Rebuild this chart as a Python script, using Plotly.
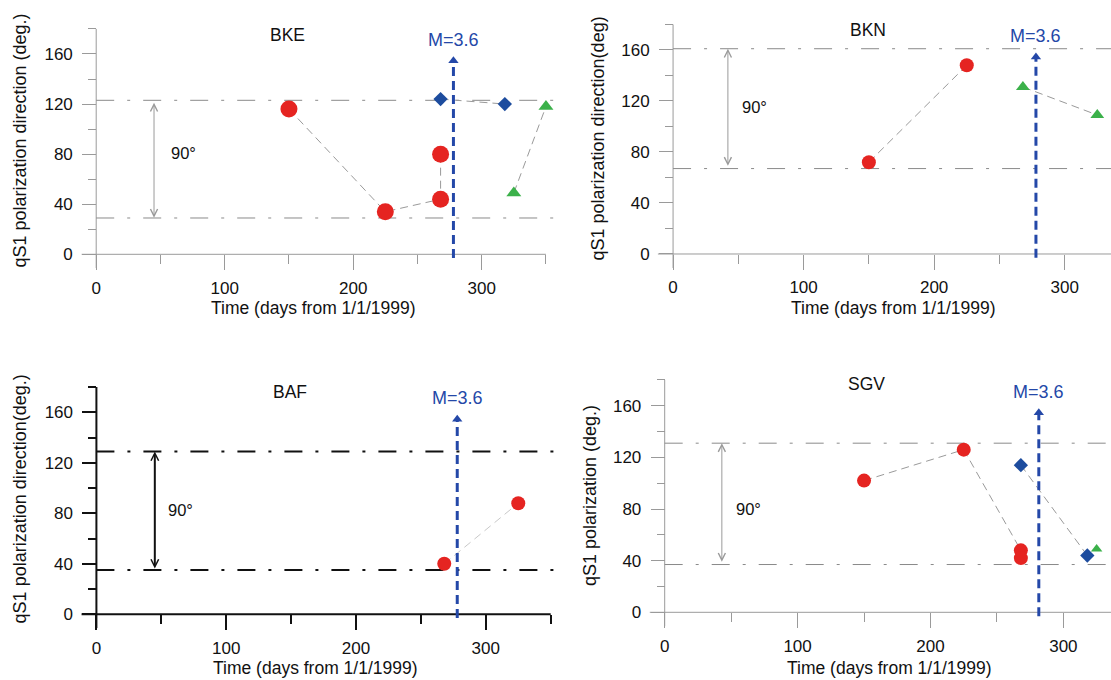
import plotly.graph_objects as go

W, H = 1111, 680

# ---------------- data ----------------
stations = ["BKE", "BKN", "BAF", "SGV"]
y_titles = ["qS1 polarization direction (deg.)",
            "qS1 polarization direction(deg)",
            "qS1 polarization direction(deg.)",
            "qS1 polarization (deg.)"]
x_title = "Time (days from 1/1/1999)"
x_ticks = [0, 100, 200, 300]
y_ticks = [0, 40, 80, 120, 160]

# BKE
bke_circle_x = [150, 225, 268, 268]
bke_circle_y = [116, 34, 44, 80]
bke_diamond_x = [268, 318]
bke_diamond_y = [124, 120]
bke_triangle_x = [325, 350]
bke_triangle_y = [49, 118]
# BKN
bkn_circle_x = [150, 225]
bkn_circle_y = [72, 148]
bkn_diamond_x = []
bkn_diamond_y = []
bkn_triangle_x = [268, 325]
bkn_triangle_y = [131, 109]
# BAF
baf_circle_x = [268, 325]
baf_circle_y = [40, 88]
baf_diamond_x = []
baf_diamond_y = []
baf_triangle_x = []
baf_triangle_y = []
# SGV
sgv_circle_x = [150, 225, 268, 268]
sgv_circle_y = [102, 126, 48, 42]
sgv_diamond_x = [268, 318]
sgv_diamond_y = [114, 44]
sgv_triangle_x = [325]
sgv_triangle_y = [49]

# fast-direction bounds (90 deg apart)
ref_low = [29, 67, 35, 37]
ref_high = [123, 161, 129, 131]
arrow_low = [28, 68, 35, 38]
arrow_high = [121, 161, 129, 131]
arrow_day = [45, 42, 45, 43]
event_day = [278, 278, 278, 281.5]
event_label = "M=3.6"

# ---------------- styling / geometry ----------------
RED = "#e52421"
BLUE_D = "#1d4c9e"
GREEN = "#3bb14a"
EVENT = "#2448a8"
FONT = "Liberation Sans, Arial, sans-serif"

# pixel geometry of each panel: x=0 pixel, px/day, y=0 pixel, px/deg, ranges
geo = [
    dict(x0=96.2, kx=1.285, xr=[-11.5, 360], y0=254.3, ky=1.252, yr=[-11, 181]),
    dict(x0=673.1, kx=1.307, xr=[-11.8, 335.5], y0=254.0, ky=1.275, yr=[-11, 181]),
    dict(x0=96.4, kx=1.298, xr=[-11.6, 357], y0=614.3, ky=1.2625, yr=[-11, 181]),
    dict(x0=664.7, kx=1.329, xr=[-11.4, 335.8], y0=612.3, ky=1.291, yr=[-11, 181]),
]
dark = [False, False, True, False]
ytitle_px = [(19.6, 141), (597, 138.5), (20.4, 499), (590, 496)]
xtitle_py = [308, 308, 668, 668]
title_xy = [(149, 175), (149, 175.5), (149, 176), (152, 176.5)]
ninety_xy = [(57, 81), (51, 115), (54, 82.6), (52.4, 80)]

panels = [
    (bke_circle_x, bke_circle_y, bke_diamond_x, bke_diamond_y, bke_triangle_x, bke_triangle_y),
    (bkn_circle_x, bkn_circle_y, bkn_diamond_x, bkn_diamond_y, bkn_triangle_x, bkn_triangle_y),
    (baf_circle_x, baf_circle_y, baf_diamond_x, baf_diamond_y, baf_triangle_x, baf_triangle_y),
    (sgv_circle_x, sgv_circle_y, sgv_diamond_x, sgv_diamond_y, sgv_triangle_x, sgv_triangle_y),
]
circle_size = [17, 14, 14, 14]
diamond_size = [11, 11, 11, 11]
triangle_size = [13, 12, 12, 10]

fig = go.Figure()
annotations = []
layout = {}

for i, g in enumerate(geo):
    n = "" if i == 0 else str(i + 1)
    xa, ya = "x" + n, "y" + n
    axcol = "#111111" if dark[i] else "#9a9a9a"
    axw = 2 if dark[i] else 1
    refcol = "#111111" if dark[i] else "#8a8a8a"
    refw = 2 if dark[i] else 1
    conncol = "#c8c8c8" if dark[i] else "#9a9a9a"

    left = g["x0"] + g["xr"][0] * g["kx"]
    right = min(W, g["x0"] + g["xr"][1] * g["kx"])
    top = g["y0"] - g["yr"][1] * g["ky"]
    bottom = g["y0"] - g["yr"][0] * g["ky"]

    layout["xaxis" + n] = dict(
        domain=[left / W, right / W], range=g["xr"], anchor="free",
        position=(H - g["y0"]) / H, showline=False, zeroline=False, showgrid=False,
        tickmode="array", tickvals=x_ticks, ticktext=[str(v) for v in x_ticks],
        ticks="outside", ticklen=15, tickwidth=axw, tickcolor=axcol,
        minor=dict(tickmode="linear", tick0=0, dtick=50, ticks="outside", ticklen=9,
                   tickwidth=axw, tickcolor=axcol, showgrid=False),
        tickfont=dict(family=FONT, size=17, color="#111111"),
        ticklabelstandoff=3, fixedrange=True,
    )
    layout["yaxis" + n] = dict(
        domain=[(H - bottom) / H, (H - top) / H], range=g["yr"], anchor="free",
        position=g["x0"] / W, showline=False, zeroline=False, showgrid=False,
        tickmode="array", tickvals=y_ticks, ticktext=[str(v) for v in y_ticks],
        ticks="outside", ticklen=14, tickwidth=axw, tickcolor=axcol,
        minor=dict(tickmode="linear", tick0=0, dtick=20, ticks="outside", ticklen=8,
                   tickwidth=axw, tickcolor=axcol, showgrid=False),
        tickfont=dict(family=FONT, size=17, color="#111111"),
        ticklabelstandoff=6, fixedrange=True,
    )

    # axis lines
    fig.add_trace(go.Scatter(x=[g["xr"][0], 350], y=[0, 0], mode="lines",
                             line=dict(color=axcol, width=axw), xaxis=xa, yaxis=ya,
                             hoverinfo="skip", showlegend=False))
    fig.add_trace(go.Scatter(x=[0, 0], y=[g["yr"][0], 180], mode="lines",
                             line=dict(color=axcol, width=axw), xaxis=xa, yaxis=ya,
                             hoverinfo="skip", showlegend=False))
    # reference dash-dot lines
    for yv in (ref_low[i], ref_high[i]):
        fig.add_trace(go.Scatter(x=[0, g["xr"][1]], y=[yv, yv], mode="lines",
                                 line=dict(color=refcol, width=refw, dash="18px,13px,3px,13px"),
                                 xaxis=xa, yaxis=ya, hoverinfo="skip", showlegend=False))

    cx, cy, dx, dy, tx, ty = panels[i]
    dash_conn = "8px,5px"
    if cx:
        fig.add_trace(go.Scatter(x=cx, y=cy, mode="lines+markers",
                                 line=dict(color=conncol, width=1, dash=dash_conn),
                                 marker=dict(symbol="circle", size=circle_size[i], color=RED,
                                             line=dict(width=0)),
                                 xaxis=xa, yaxis=ya, showlegend=False, cliponaxis=False))
    if dx:
        fig.add_trace(go.Scatter(x=dx, y=dy, mode="lines+markers",
                                 line=dict(color=conncol, width=1, dash=dash_conn),
                                 marker=dict(symbol="diamond", size=diamond_size[i], color=BLUE_D,
                                             line=dict(width=0)),
                                 xaxis=xa, yaxis=ya, showlegend=False, cliponaxis=False))
    if tx:
        fig.add_trace(go.Scatter(x=tx, y=ty, mode="lines+markers",
                                 line=dict(color=conncol, width=1, dash=dash_conn),
                                 marker=dict(symbol="triangle-up", size=triangle_size[i], color=GREEN,
                                             line=dict(width=0)),
                                 xaxis=xa, yaxis=ya, showlegend=False, cliponaxis=False))

    # event line with arrowhead
    fig.add_trace(go.Scatter(x=[event_day[i], event_day[i]], y=[-3, 154], mode="lines",
                             line=dict(color=EVENT, width=3, dash="9px,5px"),
                             xaxis=xa, yaxis=ya, hoverinfo="skip", showlegend=False))
    fig.add_trace(go.Scatter(x=[event_day[i]], y=[154.5], mode="markers",
                             marker=dict(symbol="triangle-up", size=9, color=EVENT, line=dict(width=0)),
                             xaxis=xa, yaxis=ya, hoverinfo="skip", showlegend=False, cliponaxis=False))
    annotations.append(dict(x=event_day[i], y=171, xref=xa, yref=ya, text=event_label,
                            showarrow=False, xanchor="center", yanchor="middle",
                            font=dict(family=FONT, size=18, color=EVENT)))

    # 90 degree double arrow
    annotations.append(dict(x=arrow_day[i], y=arrow_high[i], ax=arrow_day[i], ay=arrow_low[i],
                            xref=xa, yref=ya, axref=xa, ayref=ya, text="", showarrow=True,
                            arrowside="end+start", arrowhead=5, startarrowhead=5,
                            arrowsize=0.75 if dark[i] else 1.4,
                            startarrowsize=0.75 if dark[i] else 1.4,
                            arrowwidth=2 if dark[i] else 1,
                            arrowcolor="#111111" if dark[i] else "#9a9a9a",
                            standoff=0, startstandoff=0))
    annotations.append(dict(x=ninety_xy[i][0], y=ninety_xy[i][1], xref=xa, yref=ya,
                            text="90°", showarrow=False, xanchor="left", yanchor="middle",
                            font=dict(family=FONT, size=16.5, color="#111111")))
    # station title
    annotations.append(dict(x=title_xy[i][0], y=title_xy[i][1], xref=xa, yref=ya,
                            text=stations[i], showarrow=False, xanchor="center", yanchor="middle",
                            font=dict(family=FONT, size=17.5, color="#111111")))
    # axis titles
    annotations.append(dict(x=169, y=(H - xtitle_py[i]) / H, xref=xa, yref="paper",
                            text=x_title, showarrow=False, xanchor="center", yanchor="middle",
                            font=dict(family=FONT, size=17.5, color="#111111")))
    annotations.append(dict(x=ytitle_px[i][0] / W, y=(H - ytitle_px[i][1]) / H,
                            xref="paper", yref="paper", text=y_titles[i], textangle=-90,
                            showarrow=False, xanchor="center", yanchor="middle",
                            font=dict(family=FONT, size=18, color="#111111")))

fig.update_layout(
    width=W, height=H, autosize=False,
    margin=dict(l=0, r=0, t=0, b=0),
    paper_bgcolor="white", plot_bgcolor="white",
    showlegend=False,
    annotations=annotations,
    **layout,
)

fig.write_html("out.html")
